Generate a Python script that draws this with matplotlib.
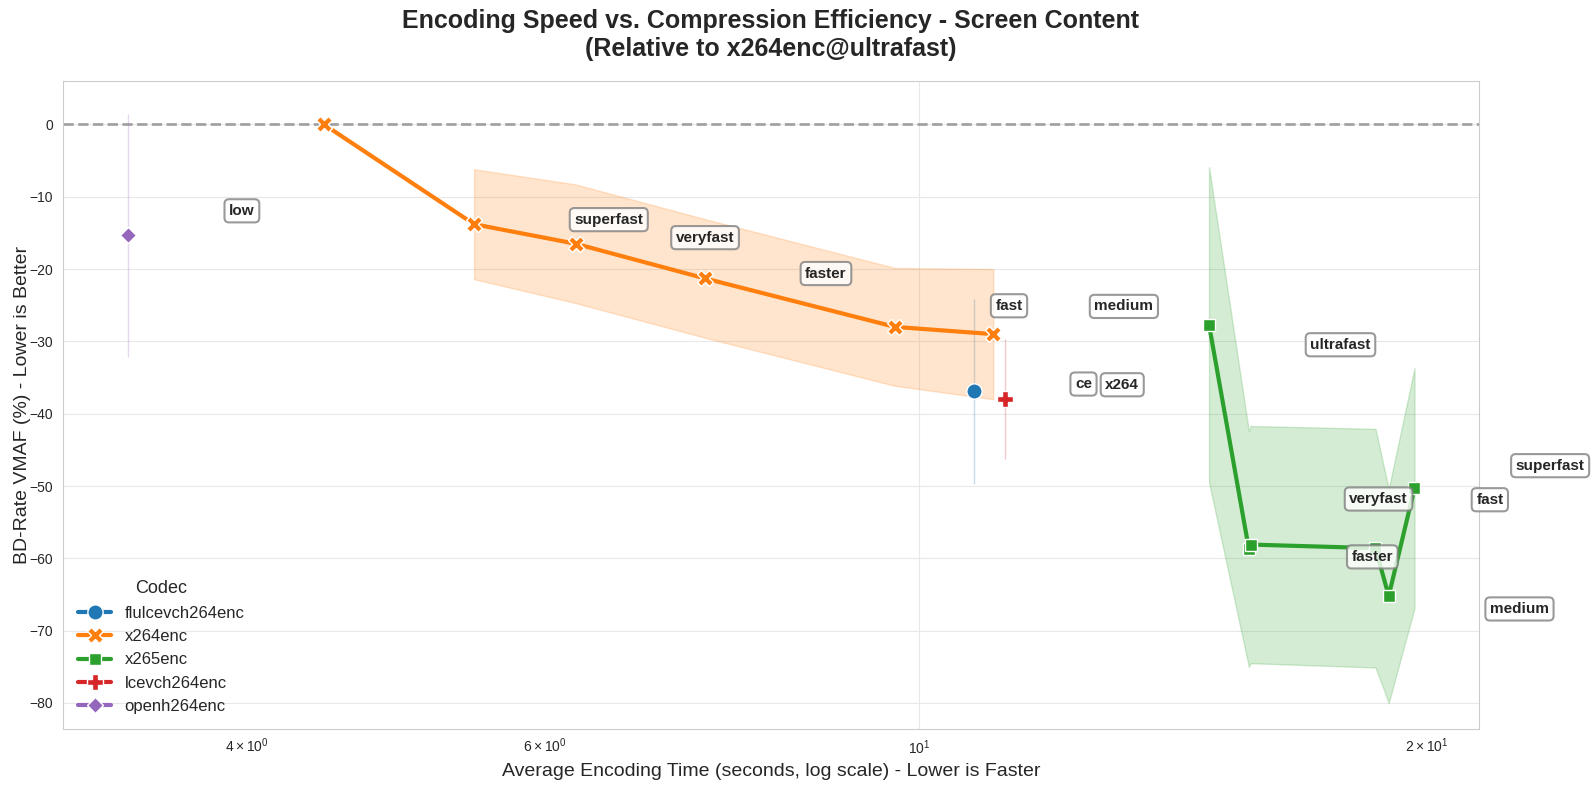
import matplotlib
matplotlib.use("Agg")
import matplotlib.pyplot as plt
import seaborn as sns
import numpy as np

# codecs in legend order
codecs = ["flulcevch264enc", "x264enc", "x265enc", "lcevch264enc", "openh264enc"]

# average encoding time (s) and BD-rate VMAF (%) per preset
flulcevc_time = [10.78]
flulcevc_bd = [-36.9]
flulcevc_std = [12.8]

x264_time = [4.44, 5.45, 6.26, 7.47, 9.68, 11.07]
x264_bd = [0.0, -13.8, -16.5, -21.3, -28.0, -29.0]
x264_std = [np.nan, 7.6, 8.2, 8.2, 8.15, 9.0]

x265_time = [14.86, 15.69, 15.73, 18.65, 18.99, 19.67]
x265_bd = [-27.7, -58.7, -58.1, -58.6, -65.2, -50.3]
x265_std = [21.8, 16.3, 16.4, 16.5, 14.8, 16.6]

lcevc_time = [11.25]
lcevc_bd = [-38.0]
lcevc_std = [8.3]

openh264_time = [3.40]
openh264_bd = [-15.3]
openh264_std = [16.8]

# preset labels as they sit on the chart
label_text = ["low", "superfast", "veryfast", "faster", "fast", "medium", "ce", "x264",
              "ultrafast", "superfast", "veryfast", "fast", "faster", "medium"]
label_x = [3.97, 6.55, 7.47, 8.81, 11.31, 13.23, 12.52, 13.20,
           17.78, 23.67, 18.73, 21.80, 18.57, 22.70]
label_y = [-11.95, -13.17, -15.66, -20.62, -25.08, -25.17, -35.9, -36.0,
           -30.47, -47.19, -51.8, -51.9, -59.8, -67.0]

sns.set_style("whitegrid")
plt.rcParams['font.family'] = ['Liberation Sans', 'DejaVu Sans']

series = [
    (flulcevc_time, flulcevc_bd, flulcevc_std, '#1f77b4', 'o', 11),
    (x264_time, x264_bd, x264_std, '#ff7f0e', 'X', 11),
    (x265_time, x265_bd, x265_std, '#2ca02c', 's', 8),
    (lcevc_time, lcevc_bd, lcevc_std, '#d62728', 'P', 11),
    (openh264_time, openh264_bd, openh264_std, '#9467bd', 'D', 8.5),
]

fig = plt.figure(figsize=(15.94, 7.90), dpi=100)
ax = fig.add_axes([63 / 1594, 1 - 729 / 790, (1479 - 63) / 1594, (729 - 81) / 790])
ax.grid(True, color='#e8e8e8')

ax.axhline(0, color='gray', alpha=0.7, linestyle='--', linewidth=2, zorder=1)

handles = []
for name, (t, bd, sd, col, mk, ms) in zip(codecs, series):
    t = np.array(t)
    bd = np.array(bd)
    sd = np.array(sd)
    if len(t) > 1:
        ax.fill_between(t, bd - sd, bd + sd, color=col, alpha=0.2, zorder=2)
    else:
        ax.errorbar(t, bd, yerr=sd, fmt='none', ecolor=col, elinewidth=1, alpha=0.25, zorder=2)
    h, = ax.plot(t, bd, color=col, marker=mk, markersize=ms, linewidth=3,
                 markeredgecolor='white', markeredgewidth=1, label=name, zorder=3)
    handles.append(h)

for txt, lx, ly in zip(label_text, label_x, label_y):
    ax.annotate(txt, (lx, ly), ha='center', va='center', fontsize=11, fontweight='bold',
                color='#262626', annotation_clip=False, zorder=5,
                bbox=dict(boxstyle='round,pad=0.3', facecolor='white', edgecolor='gray',
                          alpha=0.8, linewidth=1.5))

ax.set_xscale('log')
ax.set_xlim(3.11, 21.48)
ax.set_ylim(-83.6, 6.0)

ax.set_xlabel('Average Encoding Time (seconds, log scale) - Lower is Faster', fontsize=14)
ax.set_ylabel('BD-Rate VMAF (%) - Lower is Better', fontsize=14, labelpad=-1)
ax.set_title('Encoding Speed vs. Compression Efficiency - Screen Content\n(Relative to x264enc@ultrafast)',
             fontsize=18, fontweight='bold', pad=18)
ax.tick_params(axis='both', which='both', labelsize=10)

leg = ax.legend(handles=handles, title='Codec', loc='lower left', fontsize=12,
                title_fontsize=13, frameon=False)

fig.savefig('out.png', dpi=100)
